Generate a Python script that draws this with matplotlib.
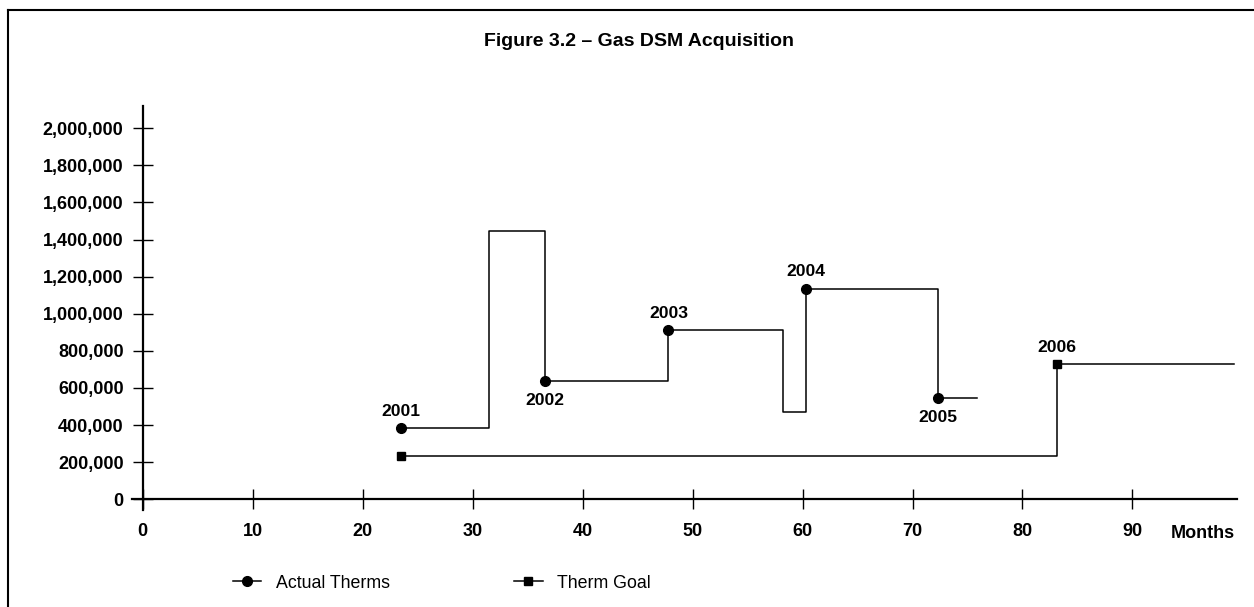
import matplotlib
matplotlib.use("Agg")
import matplotlib.pyplot as plt
from matplotlib.lines import Line2D
from matplotlib.ticker import FuncFormatter

plt.rcParams['font.family'] = ['Liberation Sans', 'DejaVu Sans']

# step series (months, therms)
actual_months = [23.45, 31.5, 36.6, 47.8, 58.2, 60.27, 72.3, 75.9]
actual_therms = [382000, 1446000, 640000, 912000, 473000, 1136000, 548000, 548000]
goal_months = [23.45, 83.1, 99.2]
goal_therms = [231000, 731000, 731000]

# year labels: (index of point, text, above?)
actual_years = [(0, '2001', True), (2, '2002', False), (3, '2003', True),
                (5, '2004', True), (6, '2005', False)]
goal_years = [(1, '2006', True)]

fig = plt.figure(figsize=(12.54, 6.07), dpi=100)
ax = fig.add_axes([0.1053, 0.1598, 0.8811, 0.6656])

ax.step(actual_months, actual_therms, where='post', color='black', lw=1.1)
ax.step(goal_months, goal_therms, where='post', color='black', lw=1.1)

for i, yr, above in actual_years:
    ax.plot(actual_months[i], actual_therms[i], 'o', color='black', ms=7)
    ax.annotate(yr, (actual_months[i], actual_therms[i]),
                xytext=(0, 12 if above else -14), textcoords='offset points',
                ha='center', va='center', fontsize=12.6, fontweight='bold')
for i, yr, above in goal_years:
    ax.plot(goal_months[i], goal_therms[i], 's', color='black', ms=6)
    ax.annotate(yr, (goal_months[i], goal_therms[i]),
                xytext=(0, 12 if above else -14), textcoords='offset points',
                ha='center', va='center', fontsize=12.6, fontweight='bold')
ax.plot(goal_months[0], goal_therms[0], 's', color='black', ms=6)

ax.set_xlim(-0.97, 99.5)
ax.set_ylim(-57700, 2120000)
ax.set_xticks(range(0, 100, 10))
ax.set_yticks(range(0, 2000001, 200000))
ax.yaxis.set_major_formatter(FuncFormatter(lambda v, p: f'{int(v):,}'))

ax.spines['left'].set_position(('data', 0))
ax.spines['bottom'].set_position(('data', 0))
ax.spines['top'].set_visible(False)
ax.spines['right'].set_visible(False)
ax.spines['left'].set_linewidth(1.6)
ax.spines['bottom'].set_linewidth(1.6)
ax.tick_params(direction='inout', length=14.5, width=1.0, labelsize=13)
ax.tick_params(axis='x', pad=10)
ax.tick_params(axis='y', pad=6.5)
for lab in ax.get_xticklabels() + ax.get_yticklabels():
    lab.set_fontweight('bold')
ax.patch.set_visible(False)

fig.text(1203 / 1254, 1 - 533 / 607, 'Months', ha='center', va='center',
         fontsize=13, fontweight='bold')

fig.text(639 / 1254, 1 - 42 / 607, 'Figure 3.2 \u2013 Gas DSM Acquisition',
         ha='center', va='center', fontsize=14, fontweight='bold')

# frame lines (top and left only visible)
fig.add_artist(Line2D([8 / 1254, 1.0], [1 - 10 / 607] * 2, color='black', lw=1.5,
                      transform=fig.transFigure))
fig.add_artist(Line2D([8 / 1254] * 2, [0, 1 - 10 / 607], color='black', lw=1.5,
                      transform=fig.transFigure))

handles = [Line2D([], [], color='black', lw=1.1, marker='o', ms=7),
           Line2D([], [], color='black', lw=1.1, marker='s', ms=6)]
fig.legend(handles, ['Actual Therms', 'Therm Goal'], loc='center left',
           bbox_to_anchor=(233 / 1254, 1 - 583 / 607), ncol=2, frameon=False,
           fontsize=12.8, handlelength=1.6, handletextpad=0.8,
           columnspacing=7.0, borderpad=0, borderaxespad=0)

fig.savefig('out.png', dpi=100)
